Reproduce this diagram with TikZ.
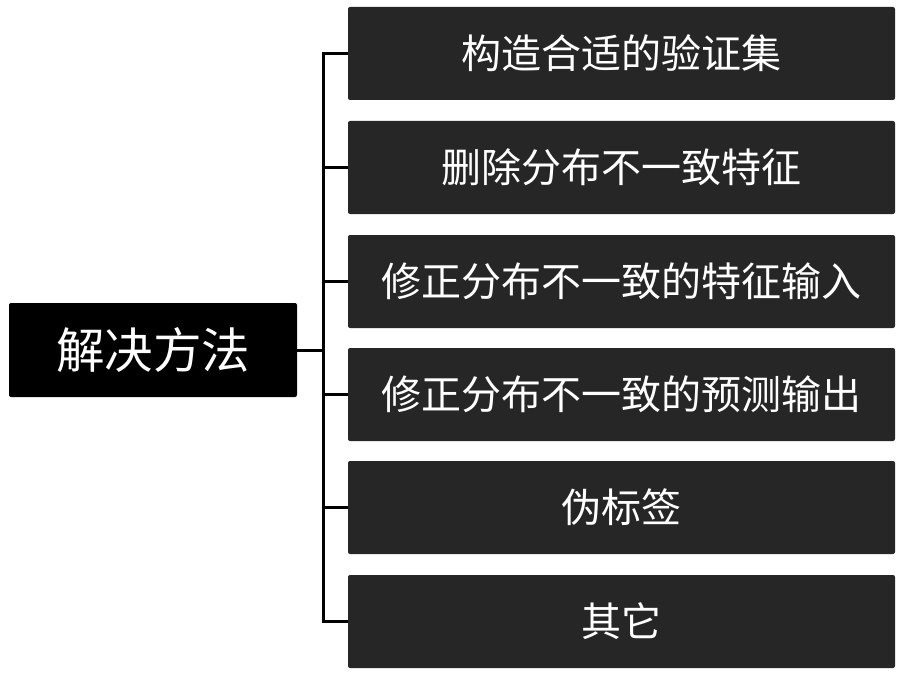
\documentclass[tikz,border=0pt]{standalone}
\usepackage{fontspec}
\setmainfont{Noto Sans CJK SC}
\definecolor{boxgray}{RGB}{38,38,38}
\tikzset{
  rootbox/.style={fill=black, text=white, rounded corners=2pt, minimum width=288pt, minimum height=94pt, inner sep=0pt, font=\fontsize{48.5}{58}\selectfont},
  solbox/.style={fill=boxgray, text=white, rounded corners=2pt, minimum width=547pt, minimum height=93pt, inner sep=0pt, font=\fontsize{40}{48}\selectfont},
  link/.style={line width=3pt, black}
}
\begin{document}
\begin{tikzpicture}[x=1pt,y=-1pt]
\useasboundingbox (0,0) rectangle (904,679);
\node[rootbox] (root) at (153,350){解决方法};
\node[solbox] (sol1) at (621.5,53.5){构造合适的验证集};
\node[solbox] (sol2) at (621.5,167.5){删除分布不一致特征};
\node[solbox] (sol3) at (621.5,281.5){修正分布不一致的特征输入};
\node[solbox] (sol4) at (621.5,394.5){修正分布不一致的预测输出};
\node[solbox] (sol5) at (621.5,507.5){伪标签};
\node[solbox] (sol6) at (621.5,621.5){其它};
\coordinate (fork) at (323,350);
\draw[link](root.east) -- (fork);
\draw[link](fork) |- (sol1.west);
\draw[link](fork) |- (sol2.west);
\draw[link](fork) |- (sol3.west);
\draw[link](fork) |- (sol4.west);
\draw[link](fork) |- (sol5.west);
\draw[link](fork) |- (sol6.west);
\end{tikzpicture}
\end{document}
